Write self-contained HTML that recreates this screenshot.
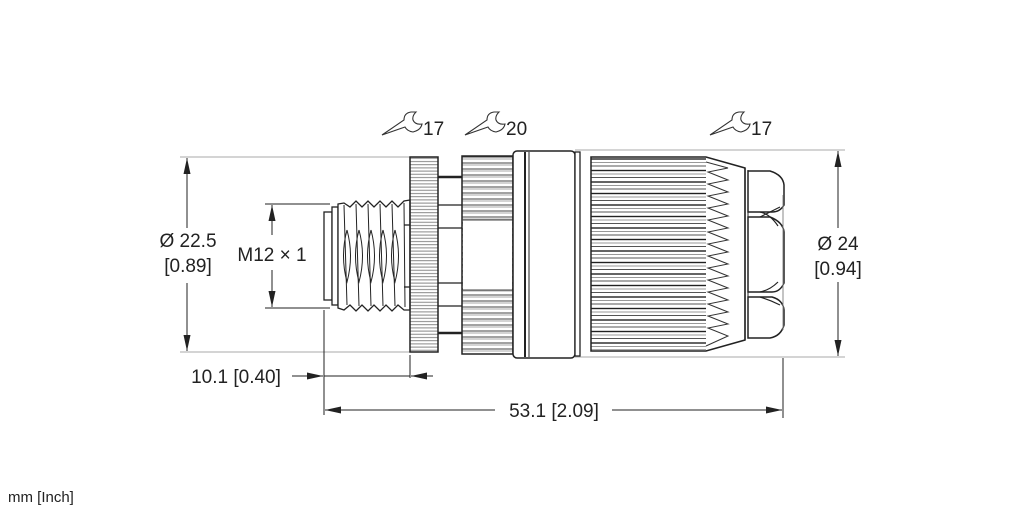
<!DOCTYPE html>
<html><head><meta charset="utf-8"><style>
html,body{margin:0;padding:0;background:#fff;}
svg{display:block;}
text{font-family:"Liberation Sans",sans-serif;fill:#222;}
</style></head><body>
<svg width="1022" height="511" viewBox="0 0 1022 511" xmlns="http://www.w3.org/2000/svg">
<defs>
<pattern id="p1" x="0" y="0" width="10" height="3.2" patternUnits="userSpaceOnUse"><line x1="0" y1="1.5" x2="10" y2="1.5" stroke="#888" stroke-width="1"/></pattern>
<pattern id="p2" x="0" y="155" width="10" height="6" patternUnits="userSpaceOnUse"><line x1="0" y1="2" x2="10" y2="2" stroke="#444" stroke-width="1"/><line x1="0" y1="4" x2="10" y2="4" stroke="#aaa" stroke-width="1"/></pattern>
<pattern id="p3" x="0" y="158" width="10" height="11.5" patternUnits="userSpaceOnUse"><line x1="0" y1="1" x2="10" y2="1" stroke="#222" stroke-width="1.4"/><line x1="0" y1="4.5" x2="10" y2="4.5" stroke="#999" stroke-width="1"/><line x1="0" y1="8" x2="10" y2="8" stroke="#555" stroke-width="1"/></pattern>
<marker id="a" viewBox="0 0 10 10" refX="10" refY="5" markerWidth="16" markerHeight="7" orient="auto-start-reverse" markerUnits="userSpaceOnUse" preserveAspectRatio="none"><path d="M0,0 L10,5 L0,10 z" fill="#222"/></marker>
</defs>

<g stroke="#aaa" stroke-width="1">
<line x1="180" y1="157" x2="410" y2="157"/>
<line x1="180" y1="352" x2="410" y2="352"/>
<line x1="575" y1="150" x2="845" y2="150"/>
<line x1="575" y1="357" x2="845" y2="357"/>
</g>
<g stroke="#222" stroke-width="1">
<line x1="265" y1="204" x2="330" y2="204"/>
<line x1="265" y1="308" x2="330" y2="308"/>
<line x1="324" y1="310" x2="324" y2="415"/>
<line x1="410" y1="355" x2="410" y2="378"/>
<line x1="783" y1="358" x2="783" y2="418"/>
<line x1="187" y1="158" x2="187" y2="228" marker-start="url(#a)"/>
<line x1="187" y1="283" x2="187" y2="351" marker-end="url(#a)"/>
<line x1="272" y1="205" x2="272" y2="235" marker-start="url(#a)"/>
<line x1="272" y1="270" x2="272" y2="307" marker-end="url(#a)"/>
<line x1="838" y1="151" x2="838" y2="228" marker-start="url(#a)"/>
<line x1="838" y1="282" x2="838" y2="356" marker-end="url(#a)"/>
<line x1="292" y1="376" x2="323" y2="376" marker-end="url(#a)"/>
<line x1="324" y1="376" x2="410" y2="376"/>
<line x1="433" y1="376" x2="411" y2="376" marker-end="url(#a)"/>
<line x1="325" y1="410" x2="495" y2="410" marker-start="url(#a)"/>
<line x1="612" y1="410" x2="782" y2="410" marker-end="url(#a)"/>
</g>

<g stroke="#222" stroke-width="1.3" fill="#fff">
<rect x="324" y="212" width="8" height="88"/>
<rect x="332" y="207" width="6" height="98"/>
<path d="M338,204 L344,203 L350,207 L356,201 L362,207 L368,201 L374,207 L380,201 L386,207 L392,201 L398,207 L404,201 L410,200 L410,310 L404,310 L398,305 L392,311 L386,305 L380,311 L374,305 L368,311 L362,305 L356,311 L350,305 L344,310 L338,308 Z"/>
<path d="M344,205 L347,305 M356,204 L359,306 M368,204 L371,306 M380,204 L383,306 M392,204 L395,306 M404,203 L405,307" fill="none" stroke-width="1"/>
<path d="M347,230 Q340,256 347,282 Q354,256 347,230 M359,230 Q352,256 359,282 Q366,256 359,230 M371,230 Q364,256 371,282 Q378,256 371,230 M383,230 Q376,256 383,282 Q390,256 383,230 M395,230 Q388,256 395,282 Q402,256 395,230" fill="none" stroke-width="1"/>
<line x1="404" y1="225" x2="410" y2="225"/><line x1="404" y1="287" x2="410" y2="287"/>
</g>

<rect x="410" y="157" width="28" height="195" fill="url(#p1)" stroke="#222" stroke-width="1.5"/>
<g stroke="#222" stroke-width="1.3">
<line x1="438" y1="177" x2="462" y2="177" stroke-width="2.5"/>
<line x1="438" y1="205" x2="462" y2="205"/>
<line x1="438" y1="228" x2="462" y2="228"/>
<line x1="438" y1="283" x2="462" y2="283"/>
<line x1="438" y1="306" x2="462" y2="306"/>
<line x1="438" y1="333" x2="462" y2="333" stroke-width="2.5"/>
</g>
<rect x="462" y="156" width="51" height="198" fill="url(#p2)" stroke="#222" stroke-width="1.5"/>
<rect x="463" y="220" width="49" height="70" fill="#fff"/>
<line x1="462" y1="220" x2="513" y2="220" stroke="#444"/>
<line x1="462" y1="290" x2="513" y2="290" stroke="#444"/>
<rect x="513" y="151" width="62" height="207" rx="4" fill="#fff" stroke="#222" stroke-width="1.5"/>
<line x1="525" y1="152" x2="525" y2="357" stroke="#222" stroke-width="2"/>
<line x1="529" y1="152" x2="529" y2="357" stroke="#222" stroke-width="1"/>
<path d="M575,152 L580,152 L580,356 L575,356 Z" fill="#fff" stroke="#222" stroke-width="1.3"/>
<rect x="591" y="158" width="115" height="192" fill="url(#p3)"/>
<path d="M591,157 L706,157 L745,168 L745,340 L706,351 L591,351 Z" fill="none" stroke="#222" stroke-width="1.5"/>
<path d="M706,162 L728,168 L708,172 L728,180 L708,184 L728,192 L708,196 L728,204 L708,208 L728,216 L708,220 L728,228 L708,232 L728,240 L708,244 L728,252 L708,256 L728,264 L708,268 L728,276 L708,280 L728,288 L708,292 L728,300 L708,304 L728,312 L708,316 L728,324 L708,328 L728,336 L706,346" fill="#fff" stroke="#333" stroke-width="1"/>
<line x1="745" y1="168" x2="745" y2="340" stroke="#222" stroke-width="1.3"/>
<line x1="748" y1="170" x2="748" y2="338" stroke="#222" stroke-width="1"/>
<g fill="#fff" stroke="#222" stroke-width="1.5">
<path d="M748,171 L770,171 Q783,175 784,185 L784,205 Q780,212 772,212 L748,212 Z"/>
<path d="M748,217 L770,217 Q783,222 784,232 L784,283 Q780,292 772,292 L748,292 Z"/>
<path d="M748,297 L772,297 Q783,300 784,310 L784,325 Q781,336 770,338 L748,338 Z"/>
<path d="M760,212 Q770,214 778,226 M760,217 Q770,212 780,207 M760,292 Q770,290 778,282 M760,297 Q770,300 780,305" fill="none" stroke-width="1.2"/>
</g>
<line x1="783" y1="195" x2="783" y2="330" stroke="#888" stroke-width="1"/>

<g font-size="19">
<text x="188" y="247" text-anchor="middle">Ø 22.5</text>
<text x="188" y="272" text-anchor="middle">[0.89]</text>
<text x="272" y="261" text-anchor="middle">M12 × 1</text>
<text x="838" y="250" text-anchor="middle">Ø 24</text>
<text x="838" y="275" text-anchor="middle">[0.94]</text>
<text x="236" y="383" text-anchor="middle">10.1 [0.40]</text>
<text x="554" y="417" text-anchor="middle">53.1 [2.09]</text>
<text x="423" y="135">17</text>
<text x="506" y="135">20</text>
<text x="751" y="135">17</text>
</g>
<g fill="none" stroke="#333" stroke-width="1.1">
<path d="M382,135 L404,120 Q404,113 411,112 L416,112 Q412,116 413,120 Q415,125 422,124 Q421,130 413,132 Q407,131 405,127 Z"/>
<path d="M465,135 L487,120 Q487,113 494,112 L499,112 Q495,116 496,120 Q498,125 505,124 Q504,130 496,132 Q490,131 488,127 Z"/>
<path d="M710,135 L732,120 Q732,113 739,112 L744,112 Q740,116 741,120 Q743,125 750,124 Q749,130 741,132 Q735,131 733,127 Z"/>
</g>
<text x="8" y="502" font-size="15">mm [Inch]</text>
</svg>
</body></html>
